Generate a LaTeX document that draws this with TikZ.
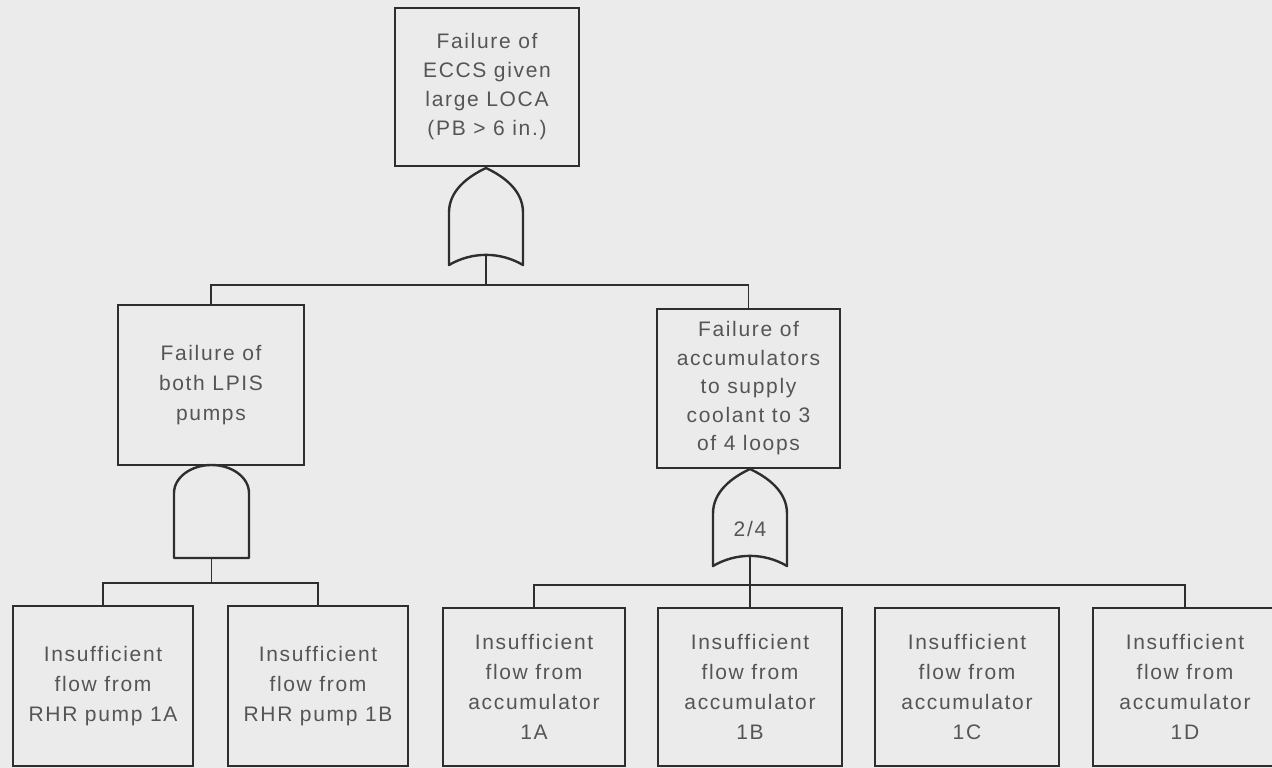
\documentclass[tikz,border=0pt]{standalone}
\usepackage{fontspec}
\setmainfont{Liberation Sans}[LetterSpace=8]
\usetikzlibrary{calc}

\definecolor{paper}{HTML}{EBEBEB}
\definecolor{ink}{HTML}{2E2E2E}
\definecolor{txt}{HTML}{555555}

\tikzset{
  event/.style={draw=ink, line width=2.4pt, fill=paper, text=txt,
    font=\fontsize{21}{30}\selectfont, align=center, inner sep=0pt,
    minimum width=184pt, minimum height=160pt},
  wire/.style={draw=ink, line width=1.6pt},
  gateline/.style={draw=ink, line width=2.4pt, fill=paper, line join=round},
  gatetext/.style={text=txt, font=\fontsize{21}{24}\selectfont, inner sep=0pt},
  % OR gate: pointed arch on top, concave base
  orgate/.pic={
    \draw[gateline] (-37,48.5) -- (-37,-4)
      .. controls (-37,-26) and (-18,-40) .. (0,-48.5)
      .. controls (18,-40) and (37,-26) .. (37,-4)
      -- (37,48.5)
      .. controls (14,35) and (-14,35) .. (-37,48.5) -- cycle;
    \coordinate (-in) at (0,-48.5);
    \coordinate (-out) at (0,39);
  },
  % AND gate: rounded dome on top, flat base
  andgate/.pic={
    \draw[gateline] (-37.5,46.5) -- (-37.5,-18.5)
      arc[start angle=180, end angle=360, x radius=37.5, y radius=28]
      -- (37.5,46.5) -- cycle;
    \coordinate (-in) at (0,-46.5);
    \coordinate (-out) at (0,46.5);
  }
}

\begin{document}
\begin{tikzpicture}[x=1pt, y=-1pt]
  \useasboundingbox (0,0) rectangle (1272,768);
  \clip (0,0) rectangle (1272,768);
  \fill[paper] (0,0) rectangle (1272,768);

  % bus levels
  \coordinate (bus1) at (0,285);
  \coordinate (bus2) at (0,583);
  \coordinate (bus3) at (0,585);

  % top event
  \node[event, minimum height=158pt, font=\fontsize{21}{29}\selectfont] (top) at (487,87)
    {Failure of\\ECCS given\\large LOCA\\(PB > 6 in.)};

  % intermediate events
  \node[event, minimum width=186pt] (lpis) at (211,385)
    {Failure of\\both LPIS\\pumps};
  \node[event, minimum width=183pt, minimum height=159pt,
        font=\fontsize{21}{28.5}\selectfont] (acc) at (748.5,388.5)
    {Failure of\\accumulators\\to supply\\coolant to 3\\of 4 loops};

  % basic events
  \node[event, minimum width=180pt] (rhrA) at (103,686)
    {Insufficient\\flow from\\RHR pump 1A};
  \node[event, minimum width=180pt] (rhrB) at (318,686)
    {Insufficient\\flow from\\RHR pump 1B};
  \node[event, minimum width=182pt, minimum height=158pt] (accA) at (534,687)
    {Insufficient\\flow from\\accumulator\\1A};
  \node[event, minimum height=158pt] (accB) at (750,687)
    {Insufficient\\flow from\\accumulator\\1B};
  \node[event, minimum height=158pt] (accC) at (967,687)
    {Insufficient\\flow from\\accumulator\\1C};
  \node[event, minimum height=158pt] (accD) at (1185,687)
    {Insufficient\\flow from\\accumulator\\1D};

  % gates
  \pic (g1) at (486,216.5) {orgate};
  \pic (ga) at (211.5,511.5) {andgate};
  \pic (g2) at (750,517.5) {orgate};
  \node[gatetext] (g2lbl) at (750,529) {2/4};

  % connectors: top OR gate
  \draw[wire] (g1-out) -- (g1-out |- bus1);
  \draw[wire] (lpis.north) |- (acc.north |- bus1) -- (acc.north);

  % connectors: AND gate
  \draw[wire] (ga-out) -- (ga-out |- bus2);
  \draw[wire] (rhrA.north) |- (rhrB.north |- bus2) -- (rhrB.north);

  % connectors: 2/4 voting gate
  \draw[wire] (g2-out) -- (accB.north);
  \draw[wire] (accA.north) |- (accD.north |- bus3) -- (accD.north);
\end{tikzpicture}
\end{document}
